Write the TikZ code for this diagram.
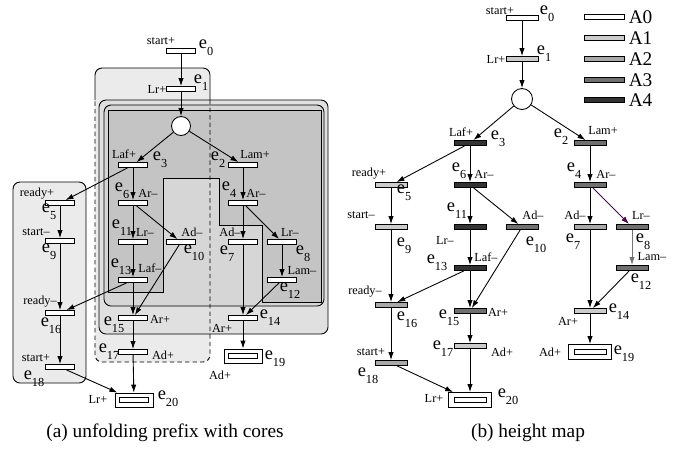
\documentclass[tikz,border=0pt]{standalone}
\usepackage{fontspec}
\setmainfont{Liberation Serif}
\usetikzlibrary{arrows.meta,positioning}

\definecolor{A0}{gray}{1}
\definecolor{A1}{gray}{0.80}
\definecolor{A2}{gray}{0.66}
\definecolor{A3}{gray}{0.44}
\definecolor{A4}{gray}{0.20}
\definecolor{plum}{RGB}{70,10,70}
\newcommand{\ev}[1]{e\raisebox{-0.85ex}{\fontsize{7}{7}\selectfont #1}}

\begin{document}
\begin{tikzpicture}[x=0.02cm, y=-0.02cm,
    bara/.style={draw, fill=white, inner sep=0pt, minimum width=0.58cm, minimum height=0.1cm, line width=0.5pt},
    barb/.style={bara, minimum width=0.64cm},
    legbar/.style={bara, minimum width=0.8cm},
    cuta/.style={draw, fill=white, inner sep=0pt, minimum width=0.76cm, minimum height=0.28cm, line width=0.5pt},
    cutb/.style={cuta, minimum width=0.86cm, minimum height=0.3cm},
    place/.style={circle, draw, fill=white, inner sep=0pt, minimum size=0.38cm, line width=0.5pt},
    lb/.style={font=\fontsize{7}{8}\selectfont, inner sep=0pt},
    ev/.style={font=\fontsize{10.5}{12}\selectfont, inner sep=0pt},
    arr/.style={-{Latex[length=4.5pt,width=3pt]}, line width=0.5pt},
    box/.style={draw, line width=0.5pt, rounded corners=0.14cm},
    dsh/.style={line width=0.5pt, dash pattern=on 2.5pt off 1.8pt, rounded corners=0.14cm},
  ]
  \useasboundingbox (0,0) rectangle (689,458);

  % --- (a) cores ---
  \fill[black!8, rounded corners=0.14cm] (95,68) rectangle (210,362);
  \filldraw[box, fill=black!8] (13,182) rectangle (86,383);
  \draw[line width=0.5pt, rounded corners=0.14cm] (95,100) |- (210,68) -- (210,100);
  \filldraw[box, fill=black!12] (99,100) rectangle (328,334);
  \filldraw[box, fill=black!16] (104,105) rectangle (324,306);
  \filldraw[line width=0.5pt, fill=black!23] (108,110) -- (321,110) -- (321,302) -- (262,302) -- (262,225)
    -- (219,225) -- (219,178) -- (163,178) -- (163,292) -- (108,292) -- cycle;
  \draw[dsh] (210,100) |- (95,362) -- (95,100);

  % --- (a) events ---
  \foreach \n/\x/\y in {0/181/51, 1/181/89, 3/133/165, 6/133/203, 11/133/242, 13/133/280, 15/133/318,
      17/133/352, 2/243/165, 4/243/203, 7/243/242, 14/243/318, 10/181/242, 8/282/242, 12/282/280,
      5/60/203, 9/60/241, 16/60/313, 18/60/367}
    \node[bara] (a\n) at (\x,\y) {};
  \node[place] (ap) at (181,126) {};
  \node[cuta] (a20) at (134,400) {};
  \node[bara] (a20i) at (a20) {};
  \node[cuta] (a19) at (243,356) {};
  \node[bara] (a19i) at (a19) {};

  \foreach \n/\x/\y/\t in {0/161/41/start+, 1/157/89/Lr+, 3/124/154/Laf+, 2/255/155/Lam+, 6/148/193/Ar--,
      11/145/232/Lr--, 13/150/268/Laf--, 10/192/232/Ad--, 7/230/232/Ad--, 4/256/193/Ar--, 8/290/232/Lr--,
      12/302/271/Lam--, 14/222/328/Ar+, 19/220/375/Ad+, 15/160/319/Ar+, 17/163/355/Ad+, 20/98/399/Lr+,
      5/37/194/ready+, 9/36/232/start--, 16/40/302/ready--, 18/36/358/start+}
    \node[lb] (la\n) at (\x,\y) {\t};
  \foreach \n/\x/\y in {0/206/48, 1/201/83, 3/160/160, 2/218/160, 6/122/191, 11/122/228, 13/121/267,
      10/194/253, 7/227/254, 4/229/190, 8/303/254, 12/290/291, 14/270/318, 19/275/359, 15/114/325,
      17/109/352, 20/168/399, 5/49/212, 9/49/252, 16/51/326, 18/34/379}
    \node[ev] (ea\n) at (\x,\y) {\ev{\n}};

  \foreach \s/\t in {0/1, 1/p, p/3, p/2, 3/6, 6/11, 11/13, 13/15, 15/17, 17/20, 3/5, 6/10, 13/16, 10/15,
      5/9, 9/16, 16/18, 18/20, 2/4, 4/7, 7/14, 14/19, 4/8, 8/12, 12/14}
    \draw[arr] (a\s) -- (a\t);

  % --- (b) height map ---
  \foreach \n/\x/\y/\c in {0/522/18/A0, 1/522/59/A1, 3/470/143/A4, 2/590/143/A3, 5/391/185/A1,
      9/391/227/A1, 16/391/305/A2, 18/391/363/A2, 6/470/185/A4, 11/470/227/A4, 13/470/268/A4,
      15/470/311/A3, 17/470/346/A1, 10/522/227/A3, 4/590/185/A3, 7/590/227/A2, 8/632/227/A3,
      12/632/268/A3, 14/590/311/A1}
    \node[barb, fill=\c] (b\n) at (\x,\y) {};
  \node[place, minimum size=0.42cm] (bp) at (522,99) {};
  \node[cutb] (b20) at (470,400) {};
  \node[barb] (b20i) at (b20) {};
  \node[cutb] (b19) at (590,352) {};
  \node[barb] (b19i) at (b19) {};

  \foreach \n/\x/\y/\t in {0/500/11/start+, 1/496/59/Lr+, 3/461/132/Laf+, 2/603/131/Lam+, 5/369/174/ready+,
      9/361/215/start--, 16/365/292/ready--, 18/371/352/start+, 6/484/174/Ar--, 11/445/240/Lr--,
      13/486/257/Laf--, 15/498/312/Ar+, 17/502/352/Ad+, 20/434/398/Lr+, 10/533/215/Ad--, 4/606/174/Ar--,
      7/575/215/Ad--, 8/641/215/Lr--, 12/652/257/Lam--, 14/568/321/Ar+, 19/550/352/Ad+}
    \node[lb] (lb\n) at (\x,\y) {\t};
  \foreach \n/\x/\y in {0/547/14, 1/544/54, 3/498/139, 2/561/137, 5/404/193, 9/404/246, 16/407/320,
      18/368/376, 6/459/171, 11/457/211, 13/437/263, 15/449/318, 17/443/349, 20/508/397, 10/536/245,
      4/574/171, 7/573/242, 8/643/242, 12/641/282, 14/619/312, 19/624/354}
    \node[ev] (eb\n) at (\x,\y) {\ev{\n}};

  \foreach \s/\t in {0/1, 1/p, p/3, p/2, 3/6, 6/11, 11/13, 13/15, 15/17, 17/20, 3/5, 6/10, 13/16, 10/15,
      5/9, 9/16, 16/18, 18/20, 2/4, 4/7, 7/14, 14/19, 12/14}
    \draw[arr] (b\s) -- (b\t);
  \draw[arr, plum] (b4) -- (b8);
  \draw[arr, black!55] (b8) -- (b12);

  % --- legend ---
  \foreach \i/\y in {0/17, 1/38, 2/59, 3/80, 4/100} {
    \node[legbar, fill=A\i] (k\i) at (604,\y) {};
    \node[right=0.08cm of k\i, inner sep=0pt, font=\fontsize{11}{13}\selectfont] (kl\i) {A\i};
  }

  % --- captions ---
  \node[font=\fontsize{11}{13}\selectfont] (capa) at (165,433) {(a) unfolding prefix with cores};
  \node[font=\fontsize{11}{13}\selectfont] (capb) at (528,433) {(b) height map};
\end{tikzpicture}
\end{document}
